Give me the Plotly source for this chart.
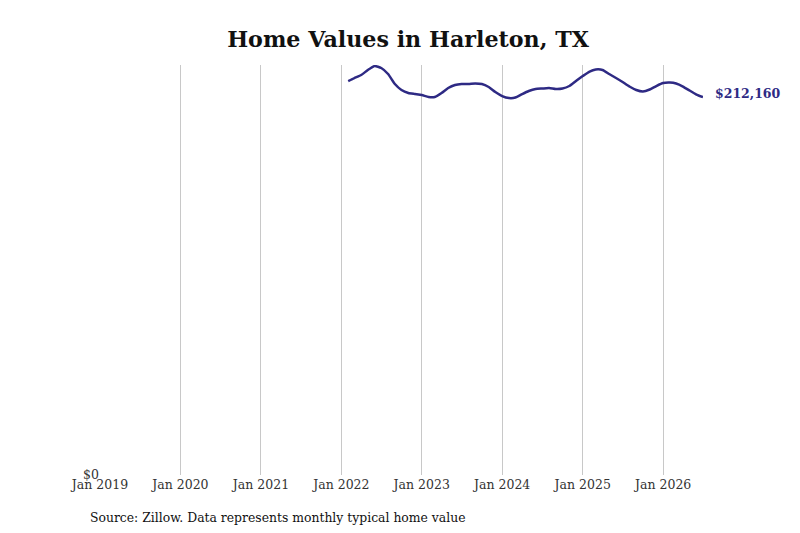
import plotly.graph_objects as go

months = [
    "2022-02-01", "2022-03-01", "2022-04-01", "2022-05-01", "2022-06-01", "2022-07-01",
    "2022-08-01", "2022-09-01", "2022-10-01", "2022-11-01", "2022-12-01",
    "2023-01-01", "2023-02-01", "2023-03-01", "2023-04-01", "2023-05-01", "2023-06-01",
    "2023-07-01", "2023-08-01", "2023-09-01", "2023-10-01", "2023-11-01", "2023-12-01",
    "2024-01-01", "2024-02-01", "2024-03-01", "2024-04-01", "2024-05-01", "2024-06-01",
    "2024-07-01", "2024-08-01", "2024-09-01", "2024-10-01", "2024-11-01", "2024-12-01",
    "2025-01-01", "2025-02-01", "2025-03-01", "2025-04-01", "2025-05-01", "2025-06-01",
    "2025-07-01", "2025-08-01", "2025-09-01", "2025-10-01", "2025-11-01", "2025-12-01",
    "2026-01-01", "2026-02-01", "2026-03-01", "2026-04-01", "2026-05-01", "2026-06-01",
    "2026-07-01",
]
home_values = [
    221150, 222840, 224520, 227330, 229570, 228450,
    225080, 219470, 216100, 214420, 213850,
    213290, 212170, 212170, 214420, 217220, 218910,
    219470, 219470, 219750, 219470, 217780, 214980,
    212730, 211610, 211890, 213850, 215540, 216660,
    216940, 217220, 216660, 216940, 218350, 221150,
    223960, 226480, 227610, 227330, 225080, 222840,
    220590, 218070, 216100, 215260, 216380, 218350,
    220030, 220310, 219750, 218070, 215820, 213570,
    212160,
]
tick_dates = ["2019-01-01", "2020-01-01", "2021-01-01", "2022-01-01",
              "2023-01-01", "2024-01-01", "2025-01-01", "2026-01-01"]
tick_labels = ["Jan 2019", "Jan 2020", "Jan 2021", "Jan 2022",
               "Jan 2023", "Jan 2024", "Jan 2025", "Jan 2026"]
last_label = "$212,160"

line_color = "#2e2a84"
font_family = "DejaVu Serif"

fig = go.Figure()
fig.add_trace(go.Scatter(
    x=months, y=home_values, mode="lines",
    line=dict(color=line_color, width=2.5, shape="spline", smoothing=0.5),
    hoverinfo="skip", showlegend=False,
))
fig.add_annotation(
    x=months[-1], y=home_values[-1], text="<b>" + last_label + "</b>",
    showarrow=False, xanchor="left", xshift=10, yshift=4,
    font=dict(family=font_family, size=12.5, color=line_color),
)
fig.add_annotation(
    x=0, y=0, xref="paper", yref="paper", yanchor="middle",
    xanchor="left", xshift=-12, yshift=-42,
    text="Source: Zillow. Data represents monthly typical home value",
    showarrow=False, font=dict(family=font_family, size=12.4, color="#111111"),
)
fig.update_layout(
    width=800, height=533,
    margin=dict(l=92, r=105, t=57, b=66),
    paper_bgcolor="white", plot_bgcolor="white",
    title=dict(text="<b>Home Values in Harleton, TX</b>", x=0.5, xanchor="center",
               y=0.942, yanchor="middle",
               font=dict(family=font_family, size=22.2, color="#111111")),
    font=dict(family=font_family, size=12.5, color="#333333"),
    xaxis=dict(
        range=["2019-01-01", "2026-07-01"],
        tickvals=tick_dates, ticktext=tick_labels,
        showgrid=True, gridcolor="#c8c8c8", gridwidth=1,
        showline=False, zeroline=False, ticks="",
        tickfont=dict(family=font_family, size=12.5, color="#333333"),
    ),
    yaxis=dict(
        range=[0, 230150], tickvals=[0], ticktext=["$0"],
        showgrid=False, zeroline=False, showline=False, ticks="",
        tickfont=dict(family=font_family, size=12.5, color="#333333"),
    ),
)
fig.write_html("out.html")
